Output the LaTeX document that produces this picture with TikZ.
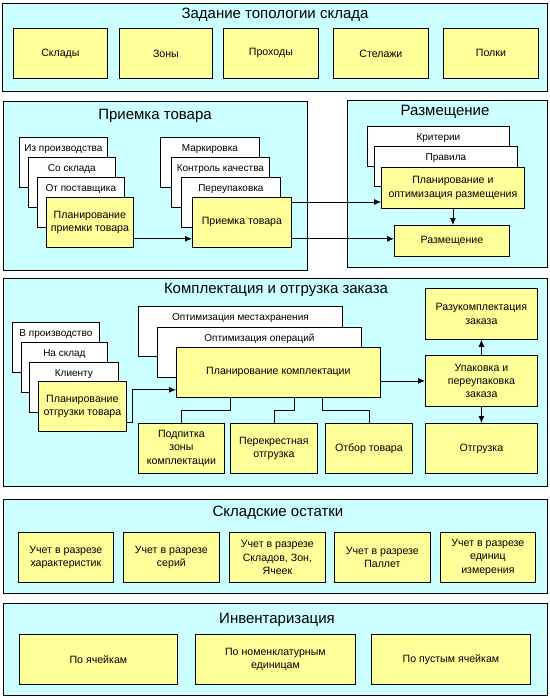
\documentclass[tikz,border=0pt]{standalone}
\usepackage{fontspec}
\setmainfont{Liberation Sans}
\usetikzlibrary{arrows.meta}
\definecolor{panelcyan}{HTML}{CCFFFF}
\definecolor{boxyellow}{HTML}{FFFF99}

\begin{document}
\begin{tikzpicture}[
    x=1pt, y=-1pt, line width=0.8pt,
    every node/.style={font=\fontsize{10}{13}\selectfont, inner sep=1pt},
    panel/.style={draw, fill=panelcyan, anchor=north west},
    ptitle/.style={font=\fontsize{15}{17}\selectfont},
    box/.style={draw, fill=boxyellow, anchor=north west, align=center, font=\fontsize{10.6}{13.4}\selectfont},
    sheet/.style={draw, fill=white, anchor=north west},
    sheettext/.style={anchor=center, yshift=-12pt},
    >={Latex[length=7pt,width=6pt]},
  ]
  \useasboundingbox (0,0) rectangle (549,698);

  % Topology
  \node[panel, minimum width=545, minimum height=88] (topo) at (2,3) {};
  \node[ptitle] (topotitle) at (275,15) {Задание топологии склада};
  \node[box, minimum width=94, minimum height=50] (sklady) at (13,28) {Склады};
  \node[box, minimum width=93, minimum height=50] (zony) at (119,28) {Зоны};
  \node[box, minimum width=95, minimum height=50] (prohody) at (223,28) {Проходы};
  \node[box, minimum width=95, minimum height=50] (stelazhi) at (333,28) {Стелажи};
  \node[box, minimum width=95, minimum height=50] (polki) at (443,28) {Полки};

  % Receiving
  \node[panel, minimum width=304, minimum height=169] (priem) at (3,101) {};
  \node[ptitle] (priemtitle) at (155,116) {Приемка товара};
  \node[sheet, minimum width=88, minimum height=50, label={[sheettext]north:Из производства}] (izpr) at (19,137) {};
  \node[sheet, minimum width=87, minimum height=50, label={[sheettext]north:Со склада}] (sosklada) at (28,157) {};
  \node[sheet, minimum width=87, minimum height=50, label={[sheettext]north:От поставщика}] (otpost) at (37,177) {};
  \node[box, minimum width=87, minimum height=50] (planpriem) at (46,197) {Планирование\\приемки товара};
  \node[sheet, minimum width=99, minimum height=50, label={[sheettext]north:Маркировка}] (mark) at (160,137) {};
  \node[sheet, minimum width=98, minimum height=50, label={[sheettext]north:Контроль качества}] (kontrol) at (171,157) {};
  \node[sheet, minimum width=99, minimum height=50, label={[sheettext]north:Переупаковка}] (pereup) at (181,177) {};
  \node[box, minimum width=99, minimum height=50] (priemka) at (192,197) {Приемка товара};
  \coordinate (pp) at ([yshift=9pt]planpriem.south east);
  \draw[->] (pp) -- (pp -| priemka.west);

  % Placement
  \node[panel, minimum width=200, minimum height=167] (razm) at (347,100) {};
  \node[ptitle] (razmtitle) at (445,112) {Размещение};
  \node[sheet, minimum width=142, minimum height=40, label={[sheettext]north:Критерии}] (krit) at (367,126) {};
  \node[sheet, minimum width=143, minimum height=40, label={[sheettext]north:Правила}] (pravila) at (374,146) {};
  \node[box, minimum width=143, minimum height=41] (planrazm) at (381,167) {Планирование и\\оптимизация размещения};
  \node[box, minimum width=115, minimum height=31] (razmesh) at (394,225) {Размещение};
  \draw[->] (planrazm.south) -- (planrazm.south |- razmesh.north);
  \coordinate (pr1) at ([yshift=-5pt]priemka.north east);
  \coordinate (pr2) at ([yshift=9pt]priemka.south east);
  \draw[->] (pr1) -- (pr1 -| planrazm.west);
  \draw[->] (pr2) -- (pr2 -| razmesh.west);

  % Picking and shipping
  \node[panel, minimum width=544, minimum height=208] (kompl) at (3,278) {};
  \node[ptitle] (kompltitle) at (276,290) {Комплектация и отгрузка заказа};
  \node[sheet, minimum width=87, minimum height=50, label={[sheettext]north:В производство}] (vproizv) at (12,322) {};
  \node[sheet, minimum width=86, minimum height=50, label={[sheettext]north:На склад}] (nasklad) at (21,342) {};
  \node[sheet, minimum width=89, minimum height=50, label={[sheettext]north:Клиенту}] (klientu) at (29,362) {};
  \node[box, minimum width=88, minimum height=50] (planotgr) at (38,381) {Планирование\\отгрузки товара};
  \node[sheet, minimum width=204, minimum height=50, label={[sheettext]north:Оптимизация местахранения}] (optmesta) at (138,306) {};
  \node[sheet, minimum width=204, minimum height=50, label={[sheettext]north:Оптимизация операций}] (optoper) at (157,327) {};
  \node[box, minimum width=204, minimum height=50] (plankompl) at (176,347) {Планирование комплектации};
  \node[box, minimum width=86, minimum height=50] (podpitka) at (138,423) {Подпитка\\зоны\\комплектации};
  \node[box, minimum width=87, minimum height=50] (perekr) at (230,423) {Перекрестная\\отгрузка};
  \node[box, minimum width=87, minimum height=50] (otbor) at (325,423) {Отбор товара};
  \node[box, minimum width=112, minimum height=51] (razuk) at (425,288) {Разукомплектация\\заказа};
  \node[box, minimum width=112, minimum height=51] (upak) at (425,355) {Упаковка и\\переупаковка\\заказа};
  \node[box, minimum width=112, minimum height=50] (otgruzka) at (425,423) {Отгрузка};
  \coordinate (po) at ([yshift=9pt]planotgr.south east);
  \coordinate (pk) at ([yshift=8pt]plankompl.south west);
  \draw[->] (po) -- ++(6,0) |- (pk);
  \draw[->] (plankompl.east |- upak.west) -- (upak.west);
  \draw[->] (upak.north) -- (razuk.south);
  \draw[->] (upak.south) -- (otgruzka.north);
  \draw ([xshift=54pt]plankompl.south west) -- ++(0,13) -| (podpitka.north);
  \draw ([xshift=118pt]plankompl.south west) -- ++(0,13) -| (perekr.north);
  \draw ([xshift=146pt]plankompl.south west) -- ++(0,13) -| (otbor.north);

  % Stock balances
  \node[panel, minimum width=544, minimum height=94] (ostatki) at (3,499) {};
  \node[ptitle] (ostatkititle) at (278,513) {Складские остатки};
  \node[box, minimum width=95, minimum height=50] (harakt) at (18,532) {Учет в разрезе\\характеристик};
  \node[box, minimum width=96, minimum height=50] (serii) at (123,532) {Учет в разрезе\\серий};
  \node[box, minimum width=96, minimum height=50] (sklzon) at (229,532) {Учет в разрезе\\Складов, Зон,\\Ячеек};
  \node[box, minimum width=96, minimum height=50] (pallet) at (334,532) {Учет в разрезе\\Паллет};
  \node[box, minimum width=95, minimum height=50] (edizm) at (440,532) {Учет в разрезе\\единиц\\измерения};

  % Inventory
  \node[panel, minimum width=544, minimum height=92] (invent) at (3,603) {};
  \node[ptitle] (inventtitle) at (277,620) {Инвентаризация};
  \node[box, minimum width=158, minimum height=50] (poyach) at (19,634) {По ячейкам};
  \node[box, minimum width=160, minimum height=50] (ponomen) at (195,634) {По номенклатурным\\единицам};
  \node[box, minimum width=159, minimum height=50] (popust) at (371,634) {По пустым ячейкам};
\end{tikzpicture}
\end{document}
